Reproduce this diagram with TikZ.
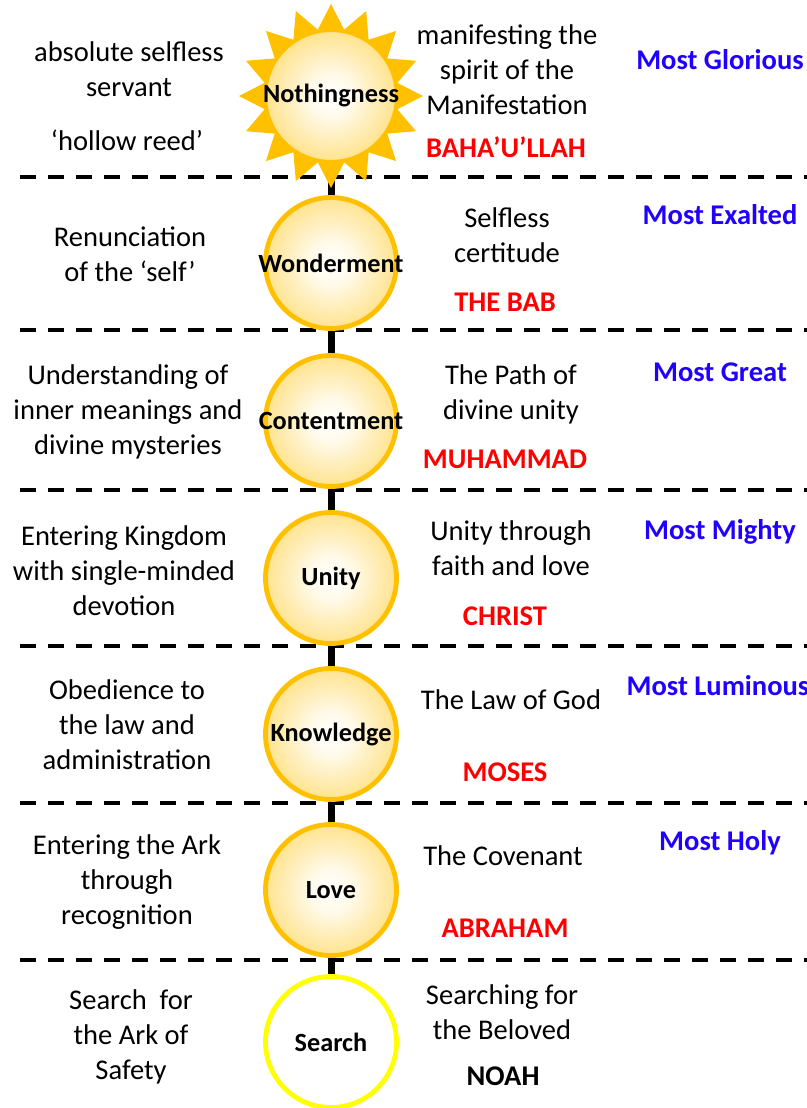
\documentclass[tikz,border=0pt]{standalone}
\usepackage{fontspec}
\setmainfont{Carlito}
\usetikzlibrary{shapes.geometric,backgrounds}
\definecolor{gold}{RGB}{255,192,0}
\definecolor{mblue}{RGB}{32,0,255}
\definecolor{mred}{RGB}{255,0,0}
\definecolor{syellow}{RGB}{255,255,0}
\pgfdeclareradialshading{ballsh}{\pgfpoint{0bp}{0bp}}{color(0bp)=(white); color(8bp)=(white!92!gold); color(30bp)=(white!45!gold); color(50bp)=(white!8!gold); color(100bp)=(gold)}
\tikzset{
  txt/.style={font=\fontsize{21.4}{26.25}\selectfont, align=center, inner sep=0pt},
  hd/.style={txt, font=\bfseries\fontsize{21.4}{26.25}\selectfont},
  prophet/.style={hd, text=mred},
  attr/.style={hd, text=mblue},
  lvl/.style={font=\bfseries\fontsize{19.7}{24}\selectfont, inner sep=0pt},
  ball/.style={circle, inner sep=0pt, minimum size=98.25pt, draw=gold, line width=3.6pt, shading=ballsh, label={[lvl]center:#1}},
  sball/.style={circle, inner sep=0pt, minimum size=98.25pt, draw=syellow, line width=3.6pt, fill=white, label={[lvl]center:#1}},
  dashline/.style={line width=3pt, dash pattern=on 12pt off 9pt},
  stem/.style={line width=5.25pt, black}
}
\begin{document}
\begin{tikzpicture}[x=0.75pt,y=-0.75pt]
\useasboundingbox (0,0) rectangle (807,1108);
% separators
\foreach \yy in {177,330,490,646,803,960} \draw[dashline] (20,\yy) -- (830,\yy);
% sun
\node[star, star points=16, star point ratio=1.36, minimum size=138pt, fill=gold, inner sep=0pt] (rays) at (331,96) {};
\node[ball=Nothingness, minimum size=97pt, line width=1pt] (nothing) at (331,96) {};
% level circles
\node[ball=Wonderment] (wonder) at (331,263) {};
\node[ball=Contentment] (content) at (331,421) {};
\node[ball=Unity] (unity) at (331,578) {};
\node[ball=Knowledge] (know) at (331,734) {};
\node[ball=Love] (love) at (331,890) {};
\node[sball=Search] (search) at (331,1042) {};
\begin{pgfonlayer}{background}
\draw[stem] (nothing.center) -- (search.center);
\end{pgfonlayer}
% left column
\node[txt] (l1) at (129,69) {absolute selfless\\servant};
\node[txt] (l1b) at (127,140) {‘hollow reed’};
\node[txt] (l2) at (130,254) {Renunciation\\of the ‘self’};
\node[txt] (l3) at (128,412) {Understanding of\\inner meanings and\\divine mysteries};
\node[txt] (l4) at (124,571) {Entering Kingdom\\with single-minded\\devotion};
\node[txt] (l5) at (127,725) {Obedience to\\the law and\\administration};
\node[txt] (l6) at (127,882) {Entering the Ark\\through\\recognition};
\node[txt] (l7) at (131,1037) {Search\ \ for\\the Ark of\\Safety};
% right column
\node[txt] (r1) at (507,70) {manifesting the\\spirit of the\\Manifestation};
\node[prophet] (p1) at (506,147) {BAHA’U’LLAH};
\node[txt] (r2) at (507,235) {Selfless\\certitude};
\node[prophet] (p2) at (505,302) {THE BAB};
\node[txt] (r3) at (511,394) {The Path of\\divine unity};
\node[prophet] (p3) at (505,459) {MUHAMMAD};
\node[txt] (r4) at (511,548) {Unity through\\faith and love};
\node[prophet] (p4) at (505,616) {CHRIST};
\node[txt] (r5) at (511,700) {The Law of God};
\node[prophet] (p5) at (505,772) {MOSES};
\node[txt] (r6) at (503,856) {The Covenant};
\node[prophet] (p6) at (505,928) {ABRAHAM};
\node[txt] (r7) at (502,1012) {Searching for\\the Beloved};
\node[hd] (p7) at (503,1076) {NOAH};
% attributes
\node[attr] (a1) at (720,60) {Most Glorious};
\node[attr] (a2) at (720,215) {Most Exalted};
\node[attr] (a3) at (720,372) {Most Great};
\node[attr] (a4) at (720,532) {Most Mighty};
\node[attr] (a5) at (718,686) {Most Luminous};
\node[attr] (a6) at (720,843) {Most Holy};
\end{tikzpicture}
\end{document}
